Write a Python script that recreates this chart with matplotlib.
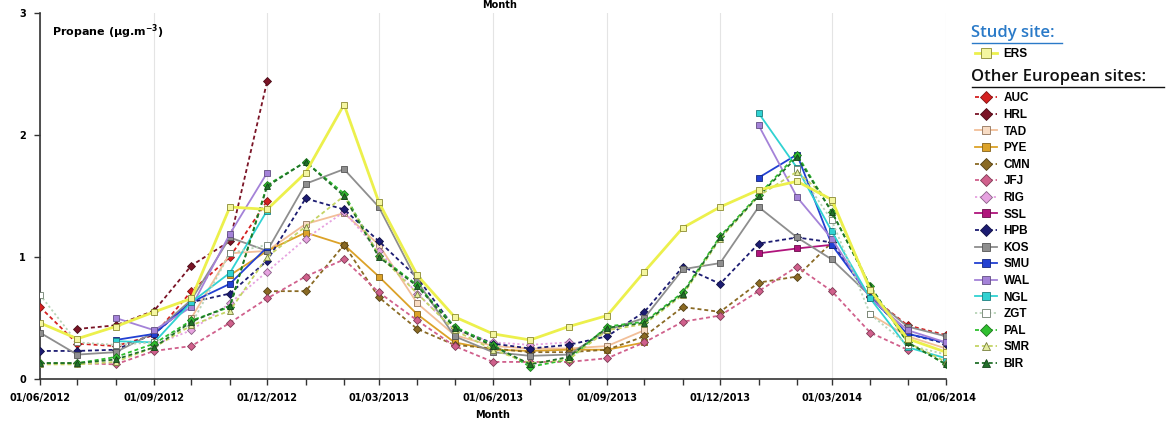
import numpy as np
import pandas as pd
import matplotlib
matplotlib.use("Agg")
import matplotlib.pyplot as plt
import matplotlib.dates as mdates
from matplotlib.lines import Line2D

nan = float("nan")

months = pd.date_range("2012-06-01", periods=25, freq="MS")
tick_dates = pd.date_range("2012-06-01", periods=9, freq="3MS")
tick_labels = [d.strftime("%d/%m/%Y") for d in tick_dates]
y_ticks = [0, 1, 2, 3]

ERS = [0.46, 0.33, 0.43, 0.55, 0.66, 1.41, 1.39, 1.69, 2.25, 1.45, 0.85, 0.51, 0.37,
       0.32, 0.43, 0.52, 0.88, 1.24, 1.41, 1.55, 1.62, 1.47, 0.73, 0.33, 0.22]
AUC = [0.59, 0.29, 0.27, 0.36, 0.72, 1.00, 1.46] + [nan] * 15 + [0.68, 0.44, 0.36]
HRL = [nan, 0.41, 0.44, 0.56, 0.93, 1.13, 2.44] + [nan] * 18
TAD = [nan, nan, nan, nan, 0.50, 1.03, 1.05, 1.27, 1.36, 1.10, 0.62, 0.36, 0.27,
       0.25, 0.25, 0.27, 0.40, nan, nan, nan, nan, nan, 0.53, 0.35, 0.25]
PYE = [nan] * 5 + [0.85, 1.05, 1.20, 1.10, 0.84, 0.53, 0.30, 0.24, 0.23, 0.24, 0.24,
                   0.30] + [nan] * 8
CMN = [nan] * 6 + [0.72, 0.72, 1.10, 0.67, 0.41, 0.28, 0.25, 0.22, 0.22, 0.24, 0.35,
                   0.59, 0.55, 0.79, 0.84, 1.12, nan, nan, nan]
JFJ = [0.13, 0.13, 0.12, 0.23, 0.27, 0.46, 0.66, 0.84, 0.98, 0.71, 0.48, 0.27, 0.14,
       0.14, 0.14, 0.17, 0.30, 0.47, 0.52, 0.72, 0.92, 0.72, 0.38, 0.24, nan]
RIG = [nan, nan, nan, 0.28, 0.40, 0.62, 0.88, 1.15, 1.37, 1.05, 0.70, 0.40, 0.30,
       0.28, 0.30] + [nan] * 10
SSL = [nan] * 19 + [1.03, 1.07, 1.10] + [nan] * 3
HPB = [0.23, 0.23, 0.24, 0.37, 0.63, 0.70, 0.97, 1.48, 1.39, 1.13, 0.83, 0.42, 0.29,
       0.25, 0.28, 0.35, 0.55, 0.92, 0.78, 1.11, 1.16, 1.12, 0.67, 0.37, 0.29]
KOS = [0.38, 0.20, 0.22, 0.38, 0.65, 1.16, 1.05, 1.60, 1.72, 1.41, 0.80, 0.35, 0.22,
       0.19, 0.20, 0.40, 0.50, 0.90, 0.95, 1.41, 1.16, 0.98, 0.68, 0.43, 0.35]
SMU = [nan, nan, 0.32, 0.37, 0.63, 0.78, 1.08] + [nan] * 12 + [1.65, 1.84, 1.10, 0.67, 0.37, 0.30]
WAL = [nan, nan, 0.50, 0.40, 0.59, 1.19, 1.69] + [nan] * 12 + [2.08, 1.49, 1.15, 0.66, 0.40, 0.30]
NGL = [nan, nan, 0.31, 0.30, 0.63, 0.87, 1.38] + [nan] * 12 + [2.18, 1.73, 1.21, 0.66, 0.26, 0.17]
ZGT = [0.69, 0.30, 0.28, 0.30, 0.45, 1.03, 1.10] + [nan] * 13 + [1.72, 1.30, 0.53, 0.28, 0.20]
PAL = [0.13, 0.13, 0.18, 0.29, 0.48, 0.59, 1.59, 1.78, 1.52, 1.01, 0.77, 0.43, 0.28,
       0.10, 0.16, 0.43, 0.47, 0.71, 1.17, 1.51, 1.84, 1.37, 0.76, 0.30, 0.12]
SMR = [0.12, 0.12, 0.14, 0.26, 0.44, 0.56, 1.00, 1.25, 1.50, 1.02, 0.70, 0.40, 0.24,
       0.13, 0.16, 0.40, 0.45, 0.69, 1.15, 1.50, 1.70, 1.45, 0.75, 0.30, 0.14]
BIR = [0.13, 0.13, 0.16, 0.26, 0.47, 0.60, 1.58, 1.78, 1.50, 1.00, 0.76, 0.42, 0.27,
       0.12, 0.18, 0.42, 0.46, 0.70, 1.16, 1.50, 1.82, 1.37, 0.76, 0.30, 0.12]

DASH = (0, (2.2, 1.6))
DOT = (0, (1.2, 1.4))
# name, data, color, marker, linestyle, marker face
others = [
    ("AUC", AUC, "#d42020", "D", DASH, None),
    ("HRL", HRL, "#7a1426", "D", DASH, None),
    ("TAD", TAD, "#f2bf98", "s", "-", "#f8dcc4"),
    ("PYE", PYE, "#dca228", "s", "-", None),
    ("CMN", CMN, "#8a6a24", "D", DASH, None),
    ("JFJ", JFJ, "#d0608c", "D", DASH, None),
    ("RIG", RIG, "#e6a2e0", "D", DOT, None),
    ("SSL", SSL, "#b0147c", "s", "-", None),
    ("HPB", HPB, "#1c1c72", "D", DASH, None),
    ("KOS", KOS, "#8e8e8e", "s", "-", None),
    ("SMU", SMU, "#2240d2", "s", "-", None),
    ("WAL", WAL, "#a482d8", "s", "-", None),
    ("NGL", NGL, "#30d2d2", "s", "-", None),
    ("ZGT", ZGT, "#b8d4b8", "s", DOT, "#ffffff"),
    ("PAL", PAL, "#30c030", "D", DASH, None),
    ("SMR", SMR, "#c4d464", "^", DASH, "#e4eca0"),
    ("BIR", BIR, "#22702a", "^", DASH, None),
]

fig = plt.figure(figsize=(11.7, 4.3), dpi=100)
ax = fig.add_axes([40 / 1170, 51 / 430, 906 / 1170, 366 / 430])

def darker(c, f=0.6):
    r, g, b = matplotlib.colors.to_rgb(c)
    return (r * f, g * f, b * f)

handles = []
for name, data, col, mk, ls, face in others:
    fc = face if face is not None else col
    h, = ax.plot(months, data, color=col, lw=1.3, ls=ls, marker=mk, ms=4.2,
                 mfc=fc, mec=darker(col), mew=0.6, label=name, zorder=3)
    handles.append(h)

ers_h, = ax.plot(months, ERS, color="#ecf04c", lw=2.0, ls="-", marker="s", ms=4.5,
                 mfc="#f4f6a0", mec="#8a8a30", mew=0.6, label="ERS", zorder=4)

ax.set_xlim(months[0], months[-1])
ax.set_ylim(0, 3)
ax.set_yticks(y_ticks)
ax.set_yticklabels([str(v) for v in y_ticks], fontsize=7, fontweight="bold")
ax.set_xticks(tick_dates)
ax.set_xticklabels(tick_labels, fontsize=7, fontweight="bold")
ax.set_xticks(months, minor=True)
ax.tick_params(axis="both", direction="out", length=4, width=1, color="#333333", pad=6)
ax.tick_params(axis="x", which="minor", length=4, width=1, color="#333333")
for s in ["top", "right"]:
    ax.spines[s].set_visible(False)
for s in ["left", "bottom"]:
    ax.spines[s].set_color("#333333")
    ax.spines[s].set_linewidth(1.2)
ax.grid(axis="x", which="major", color="#e4e4e4", lw=0.8)
ax.set_axisbelow(True)
ax.set_xlabel("Month", fontsize=7, fontweight="bold", labelpad=5)

ax.text(0.013, 0.95, "Propane (\u00b5g.m$^{\\mathbf{-3}}$)", transform=ax.transAxes,
        fontsize=8, fontweight="bold", va="center", ha="left")

fig.text(0.427, 0.999, "Month", fontsize=7, fontweight="bold", ha="center", va="top")

# Legend headers
fig.text(971 / 1170, 1 - 33 / 430, "Study site:", fontsize=12, color="#2a7ac8",
         family="Open Sans", fontweight="semibold", ha="left", va="center")
fig.add_artist(Line2D([972 / 1170, 1062 / 1170], [1 - 43 / 430, 1 - 43 / 430],
                      color="#2a7ac8", lw=1.0))
fig.text(971 / 1170, 1 - 77 / 430, "Other European sites:", fontsize=12, color="#111111",
         family="Open Sans", fontweight="semibold", ha="left", va="center")
fig.add_artist(Line2D([972 / 1170, 1164 / 1170], [1 - 87 / 430, 1 - 87 / 430],
                      color="#111111", lw=1.0))

legprop = {"size": 8.5, "weight": "bold", "family": "Liberation Sans"}
leg1 = fig.legend(handles=[ers_h], loc="upper left",
                  bbox_to_anchor=(973 / 1170, 1 - 46 / 430), frameon=False,
                  prop=legprop, handlelength=1.8, markerscale=1.5,
                  handletextpad=0.6, borderaxespad=0, borderpad=0.2)
leg2 = fig.legend(handles=handles, loc="upper left",
                  bbox_to_anchor=(973 / 1170, 1 - 90 / 430), frameon=False,
                  prop=legprop, handlelength=1.8, markerscale=1.5,
                  handletextpad=0.6, labelspacing=0.39, borderaxespad=0, borderpad=0.2)

fig.savefig("out.png", dpi=100)
